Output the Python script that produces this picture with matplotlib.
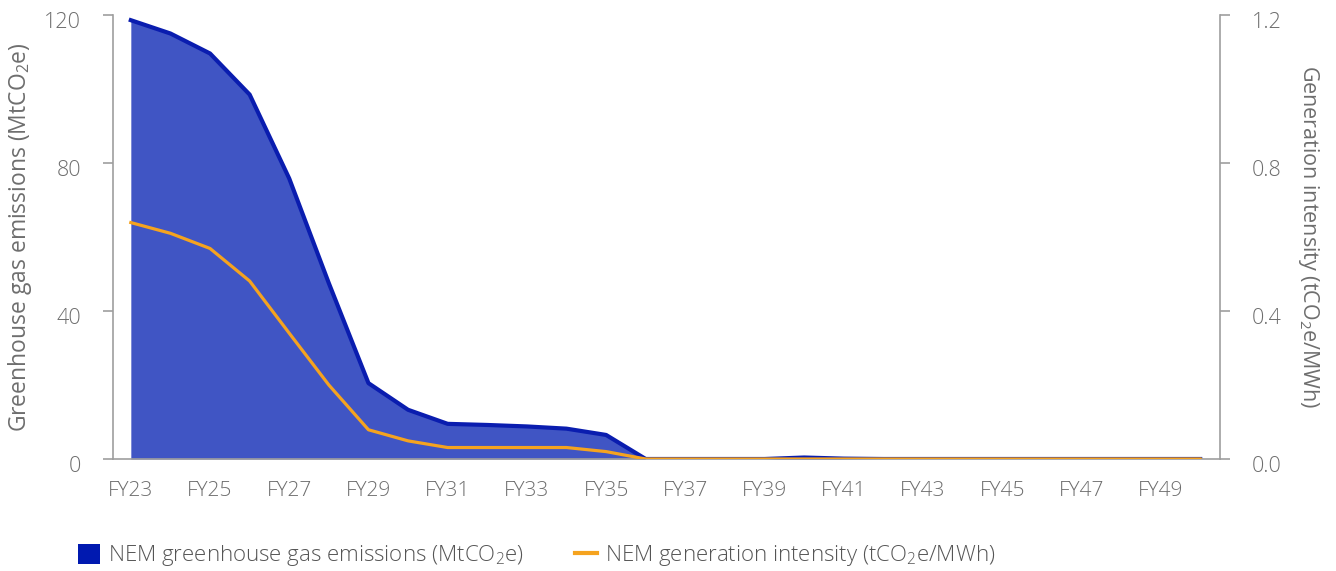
import matplotlib
matplotlib.use("Agg")
import matplotlib.pyplot as plt
import matplotlib.transforms as mtrans
from matplotlib.patches import Patch
from matplotlib.lines import Line2D

plt.rcParams['font.family'] = ['Open Sans', 'DejaVu Sans']
plt.rcParams['font.weight'] = 'light'
plt.rcParams['mathtext.fontset'] = 'custom'
plt.rcParams['mathtext.rm'] = 'Open Sans:light'
plt.rcParams['mathtext.default'] = 'regular'

years = [f"FY{y}" for y in range(23, 51)]
emissions = [118.6, 115.0, 109.6, 98.5, 75.8, 47.5, 20.5, 13.3, 9.5, 9.2, 8.8, 8.2,
             6.5, 0.0, 0.0, 0.0, 0.0, 0.4, 0.1, 0.0, 0.0, 0.0, 0.0, 0.0, 0.0, 0.0, 0.0, 0.0]
intensity = [0.639, 0.61, 0.569, 0.481, 0.34, 0.20, 0.079, 0.049, 0.031, 0.031, 0.031, 0.031,
             0.02, 0.0, 0.0, 0.0, 0.0, 0.0, 0.0, 0.0, 0.0, 0.0, 0.0, 0.0, 0.0, 0.0, 0.0, 0.0]
left_ticks = [0, 40, 80, 120]
right_ticks = [0.0, 0.4, 0.8, 1.2]

FILL = '#4055C4'
LINE = '#0A1DAF'
ORANGE = '#F5A31F'
GRAY_TXT = '#6E6E6E'
SPINE = '#9E9E9E'

fig = plt.figure(figsize=(13.36, 5.71), dpi=100)
ax = fig.add_axes([113/1336, 1-459/571, (1220-113)/1336, (459-15)/571])
x = list(range(len(years)))

ax.fill_between(x, emissions, 0, color=FILL, lw=0)
ax.plot(x, emissions, color=LINE, lw=3.0, solid_joinstyle='round')
ax.set_ylim(0, 120)
ax.set_xlim(-0.45, 27.5)
ax.set_yticks(left_ticks)
ax.set_yticklabels([str(v) for v in left_ticks])
ax.set_xticks(x[::2])
ax.set_xticklabels(years[::2])

ax2 = ax.twinx()
ax2.plot(x, intensity, color=ORANGE, lw=2.3, solid_joinstyle='round')
ax2.set_ylim(0, 1.2)
ax2.set_yticks(right_ticks)
ax2.set_yticklabels([f"{v:.1f}" for v in right_ticks])

for a in (ax, ax2):
    a.spines['top'].set_visible(False)
    for s in ('left', 'right', 'bottom'):
        a.spines[s].set_color(SPINE)
        a.spines[s].set_linewidth(1.2)
    a.tick_params(axis='y', colors=SPINE, labelcolor=GRAY_TXT, labelsize=15.5, length=7, width=1.2, pad=16)
ax.spines['right'].set_visible(False)
ax2.spines['left'].set_visible(False)
ax2.spines['bottom'].set_visible(False)
ax.tick_params(axis='x', length=0, labelcolor=GRAY_TXT, labelsize=15, pad=16)

# labels sit slightly below their ticks in the reference
shift = mtrans.ScaledTranslation(0, -5/100, fig.dpi_scale_trans)
for a in (ax, ax2):
    for lab in a.get_yticklabels():
        lab.set_transform(lab.get_transform() + shift)

ax.set_ylabel('Greenhouse gas emissions (MtCO$_2$e)', color=GRAY_TXT, fontsize=16.5, va='center')
ax.yaxis.set_label_coords(-(113-20)/1107, 0.5)
ax2.set_ylabel('Generation intensity (tCO$_2$e/MWh)', color=GRAY_TXT, fontsize=15.5, rotation=270, va='center')
ax2.yaxis.set_label_coords(1 + (1309-1220)/1107, 0.5)

handles = [Patch(facecolor='#0019B0', edgecolor='none'),
           Line2D([0], [0], color=ORANGE, lw=3)]
labels = ['NEM greenhouse gas emissions (MtCO$_2$e)', 'NEM generation intensity (tCO$_2$e/MWh)']
leg = fig.legend(handles, labels, loc='center left', bbox_to_anchor=(78/1336, 1-556/571), ncol=2,
                 frameon=False, fontsize=16, handlelength=1.0, handleheight=1.0,
                 columnspacing=2.3, handletextpad=0.35, borderpad=0, borderaxespad=0)
for t in leg.get_texts():
    t.set_color('#555555')

fig.savefig('out.png', dpi=100)
